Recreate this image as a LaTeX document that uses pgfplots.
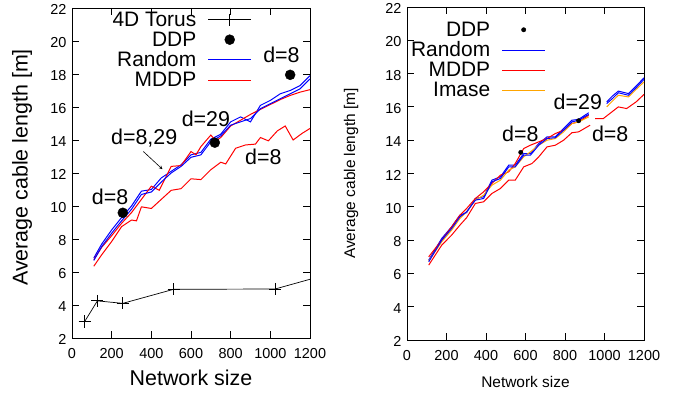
\documentclass[border=0pt]{standalone}
\usepackage{pgfplots}
\pgfplotsset{compat=1.18}
\usepackage{fontspec}
\setmainfont{Liberation Sans}
\definecolor{gpblue}{RGB}{0,0,255}
\definecolor{gpred}{RGB}{255,0,0}
\definecolor{gporange}{RGB}{255,165,0}
\begin{document}
\begin{tikzpicture}
\useasboundingbox (0,0) rectangle (684bp,394bp);
\pgfplotsset{
  myaxis/.style={
    scale only axis,
    xmin=0,xmax=1200,ymin=2,ymax=22,
    xtick={0,200,...,1200}, ytick={2,4,...,22},
    tick align=inside,
    major tick length=7bp,
    /pgf/number format/assume math mode=true,
    /pgf/number format/1000 sep={},
    tick label style={font=\fontsize{14.5}{14.5}\selectfont},
    xticklabel style={yshift=-7bp},
    yticklabel style={xshift=-2bp, yshift=-1.5bp},
    axis line style={line width=0.9pt},
    every tick/.style={black, line width=0.8pt},
    unbounded coords=jump,
    legend cell align=right,
    legend plot pos=right,
    legend style={draw=none, fill=none, font=\fontsize{21}{21}\selectfont, row sep=0bp, inner sep=0pt},
  }
}
% ---------------- left panel ----------------
\begin{axis}[myaxis,
  at={(72bp,56bp)}, anchor=south west,
  width=238bp, height=330bp,
  xlabel={Network size}, ylabel={Average cable length [m]},
  label style={font=\fontsize{21.5}{21.5}\selectfont},
  xlabel style={at={(axis description cs:0.5,-0.121)}, anchor=center},
  ylabel style={at={(axis description cs:-0.21,0.517)}, anchor=center},
  legend style={at={(0.756,0.995)}, anchor=north east},
  legend image code/.code={\path[draw=none,fill=none] (0bp,0bp) -- (10bp,0bp); \draw[mark repeat=2,mark phase=2,#1] plot coordinates {(10bp,0bp) (31.5bp,0bp) (53bp,0bp)};},
]
\addlegendimage{black, line width=0.7pt, mark=+, mark size=6bp, mark options={line width=0.8pt}}
\addlegendentry{4D Torus}
\addlegendimage{only marks, black, mark=*, mark size=5bp}
\addlegendentry{DDP}
\addlegendimage{draw=gpblue, line width=1pt}
\addlegendentry{Random}
\addlegendimage{draw=gpred, line width=1pt}
\addlegendentry{MDDP}
\addplot[black, line width=0.7pt, mark=+, mark size=6bp, mark options={line width=0.8pt}, forget plot] coordinates {
(64,3.0) (128,4.25) (256,4.1) (512,4.95) (1024,4.97) (2048,8.4)};
\addplot[only marks, black, mark=*, mark size=5bp, forget plot] coordinates {
(256,9.59) (720,13.84) (1100,17.95)};
\addplot[gpblue, line width=1pt, forget plot] coordinates {
(110,6.85) (150,7.7) (200,8.55) (250,9.3) (300,10.0) (350,10.9) (400,11.0) (450,11.7) (500,12.1) (550,12.5) (600,13.1) (650,13.25) (700,14.05) (750,14.35) (800,15.1) (850,15.4) (900,15.1) (950,16.1) (1000,16.4) (1050,16.8) (1100,17.0) (1150,17.3) (1200,17.9)};
\addplot[gpred, line width=1pt, forget plot] coordinates {
(110,6.75) (150,7.5) (200,8.2) (250,8.95) (300,9.6) (350,10.4) (400,11.2) (440,10.95) (500,12.4) (550,12.45) (600,13.3) (625,13.1) (650,13.6) (700,14.3) (725,13.95) (750,14.15) (800,14.85) (850,15.2) (900,15.55) (950,15.85) (1000,16.15) (1050,16.45) (1100,16.7) (1150,16.9) (1200,17.05)};
\addplot[gpblue, line width=1pt, forget plot] coordinates {
(110,6.7) (150,7.55) (200,8.35) (250,9.1) (300,9.8) (350,10.7) (400,10.85) (450,11.45) (500,12.0) (550,12.4) (600,12.95) (650,13.1) (700,13.9) (750,14.25) (800,14.9) (850,15.1) (900,15.3) (950,15.9) (1000,16.2) (1050,16.5) (1100,16.8) (1150,17.1) (1200,17.7)};
\addplot[gpred, line width=1pt, forget plot] coordinates {
(110,6.35) (150,7.05) (200,7.85) (250,8.75) (300,9.15) (325,9.1) (350,9.95) (400,9.85) (450,10.4) (500,10.95) (550,11.05) (600,11.65) (650,11.6) (700,12.2) (750,12.65) (775,12.55) (825,13.5) (875,13.7) (925,13.75) (950,14.15) (990,13.95) (1035,14.55) (1075,14.85) (1115,14.0) (1160,14.4) (1200,14.7)};
\node[font=\fontsize{21.5}{21.5}\selectfont] at (axis cs:1056,19.15) {d=8};
\node[font=\fontsize{21.5}{21.5}\selectfont] at (axis cs:675,15.3) {d=29};
\node[font=\fontsize{21.5}{21.5}\selectfont] at (axis cs:364,14.1) {d=8,29};
\node[font=\fontsize{21.5}{21.5}\selectfont] at (axis cs:965,12.99) {d=8};
\node[font=\fontsize{21.5}{21.5}\selectfont] at (axis cs:192,10.56) {d=8};
\draw[-stealth, line width=0.6pt] (axis cs:360,13.3) -- (axis cs:456,12.23);
\end{axis}
% ---------------- right panel ----------------
\begin{axis}[myaxis,
  at={(407bp,54bp)}, anchor=south west,
  width=237bp, height=333bp,
  xlabel={Network size}, ylabel={Average cable length [m]},
  label style={font=\fontsize{15.5}{15.5}\selectfont},
  xlabel style={at={(axis description cs:0.5,-0.125)}, anchor=center},
  ylabel style={at={(axis description cs:-0.236,0.5)}, anchor=center},
  legend style={at={(0.586,0.962)}, anchor=north east},
  legend image code/.code={\path[draw=none,fill=none] (0bp,0bp) -- (10bp,0bp); \draw[mark repeat=2,mark phase=2,#1] plot coordinates {(10bp,0bp) (31.5bp,0bp) (53bp,0bp)};},
]
\addlegendimage{only marks, black, mark=*, mark size=2.2bp}
\addlegendentry{DDP}
\addlegendimage{draw=gpblue, line width=1pt}
\addlegendentry{Random}
\addlegendimage{draw=gpred, line width=1pt}
\addlegendentry{MDDP}
\addlegendimage{draw=gporange, line width=1pt}
\addlegendentry{Imase}
\addplot[only marks, black, mark=*, mark size=2.2bp, forget plot] coordinates {
(576,13.27) (869,15.17)};
\addplot[gpblue, line width=1pt, forget plot] coordinates {
(110,6.8) (176,8.1) (226,8.8) (268,9.5) (302,9.65) (346,10.5) (388,10.6) (430,11.6) (473,11.8) (515,12.5) (548,12.5) (591,13.2) (625,13.2) (667,13.8) (709,14.2) (751,14.2) (793,14.7) (835,15.2) (869,15.25) (920,15.65) (930,nan) (1011,16.3) (1040,16.65) (1070,16.95) (1121,16.8) (1160,17.25) (1200,17.75)};
\addplot[gpred, line width=1pt, forget plot] coordinates {
(110,7.0) (176,8.0) (226,8.8) (268,9.5) (302,9.9) (346,10.5) (388,10.9) (430,11.4) (473,11.9) (515,12.1) (548,12.6) (591,13.5) (625,13.7) (667,13.9) (709,14.1) (751,14.4) (793,14.6) (835,15.0) (869,15.1) (920,15.5)};
\addplot[gporange, line width=1pt, forget plot] coordinates {
(110,6.75) (176,7.9) (226,8.6) (268,9.3) (302,9.7) (346,10.4) (388,10.7) (430,11.3) (473,11.6) (515,12.2) (548,12.4) (591,13.0) (625,13.3) (667,13.7) (709,14.0) (751,14.1) (793,14.5) (835,15.0) (869,15.1) (920,15.4) (930,nan) (1011,16.0) (1040,16.35) (1070,16.7) (1121,16.6) (1160,17.05) (1200,17.5)};
\addplot[gpblue, line width=1pt, forget plot] coordinates {
(110,6.7) (176,8.0) (226,8.7) (268,9.4) (302,9.7) (346,10.4) (388,10.5) (430,11.5) (473,11.7) (515,12.4) (548,12.4) (591,13.1) (625,13.1) (667,13.7) (709,14.1) (751,14.15) (793,14.6) (835,15.1) (869,15.2) (920,15.55) (930,nan) (1011,16.2) (1040,16.5) (1070,16.85) (1121,16.7) (1160,17.15) (1200,17.65)};
\addplot[gpred, line width=1pt, forget plot] coordinates {
(110,6.5) (176,7.7) (226,8.3) (268,8.9) (302,9.35) (346,10.2) (388,10.3) (430,10.8) (473,11.1) (515,11.6) (548,11.6) (591,12.4) (633,12.6) (667,13.0) (709,13.6) (751,13.7) (793,14.0) (835,14.45) (869,14.5) (927,14.9) (940,nan) (952,15.3) (994,15.3) (1070,16.0) (1112,15.9) (1160,16.3) (1200,16.75)};
\node[font=\fontsize{21.5}{21.5}\selectfont] at (axis cs:574,14.41) {d=8};
\node[font=\fontsize{21.5}{21.5}\selectfont] at (axis cs:865,16.31) {d=29};
\node[font=\fontsize{21.5}{21.5}\selectfont] at (axis cs:1029,14.36) {d=8};
\end{axis}
\end{tikzpicture}
\end{document}
